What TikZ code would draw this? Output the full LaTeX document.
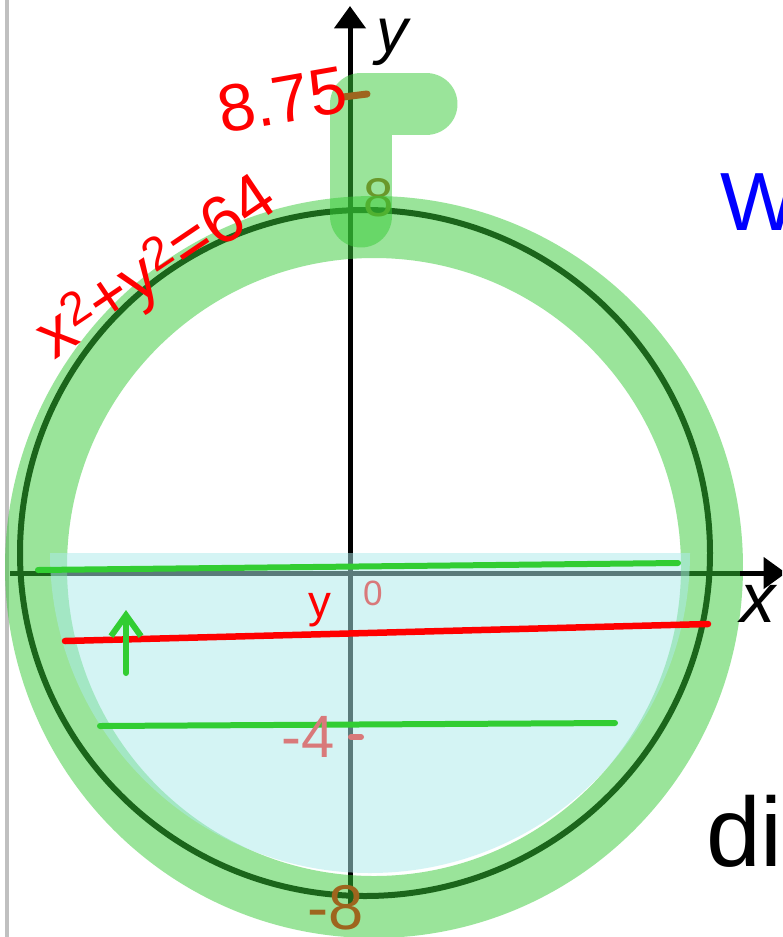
\documentclass[tikz,border=0pt]{standalone}
\usepackage{fontspec}
\setmainfont{Liberation Sans}
\usetikzlibrary{arrows.meta}
\definecolor{inkred}{RGB}{255,0,0}
\definecolor{inkgreen}{RGB}{50,205,50}
\definecolor{inkpink}{RGB}{217,121,122}
\definecolor{inkbrown}{RGB}{158,101,30}
\definecolor{inkblue}{RGB}{0,0,255}
\definecolor{pipegreen}{RGB}{55,203,55}
\definecolor{watercyan}{RGB}{173,235,235}
\definecolor{edgegray}{RGB}{192,192,192}
\begin{document}
\begin{tikzpicture}[x=0.02cm,y=-0.02cm,
  axis/.style={line width=0.1cm,black},
  pipe/.style={line width=1.24cm,draw=pipegreen,opacity=0.5,line cap=round,line join=round},
  water/.style={fill=watercyan,opacity=0.52},
  level/.style={line width=0.12cm,inkgreen,line cap=round},
  hand/.style={inner sep=0pt,outer sep=0pt}]
  \useasboundingbox (0,0) rectangle (782,937);
  \clip (0,0) rectangle (782,937);
  \fill[white] (0,0) rectangle (782,937);
  \draw[line width=0.08cm,edgegray] (7,0) -- (7,937);
  \coordinate (ytop) at (350,6);
  \coordinate (ybot) at (350,905);
  \coordinate (xleft) at (10,573);
  \coordinate (xright) at (786,573);
  \draw[axis] (ybot) -- (350,40);
  \draw[axis] (xleft) -- (755,573);
  \draw[line width=0.12cm] (365,553) ellipse[x radius=345, y radius=343];
  \node[hand,text=inkbrown,font=\fontsize{31}{31}\selectfont] (eight) at (379,198) {8};
  \draw[pipe] (374,567) ellipse[x radius=338, y radius=340];
  \draw[pipe,line width=1.26cm] (361,216) -- (361,104) -- (426,104);
  \fill[water] (690,553) arc[start angle=0, end angle=180, radius=320] -- cycle;
  \draw[axis,-{Triangle[length=0.45cm,width=0.62cm]}] (350,60) -- (ytop);
  \draw[axis,-{Triangle[length=0.45cm,width=0.62cm]}] (740,573) -- (xright);
  \coordinate (gtopa) at (38,570);
  \coordinate (gtopb) at (678,563);
  \coordinate (glowa) at (100,726);
  \coordinate (glowb) at (615,723);
  \coordinate (reda) at (65,641);
  \coordinate (redb) at (708,624);
  \draw[level] (gtopa) -- (gtopb);
  \draw[level] (glowa) -- (glowb);
  \draw[level,inkred,line width=0.13cm] (reda) -- (redb);
  \coordinate (arrlo) at (126,673);
  \coordinate (arrhi) at (126,610);
  \draw[level,-{Straight Barb[length=0.42cm,width=0.6cm]}] (arrlo) -- (arrhi);
  \draw[line width=0.14cm,inkbrown,line cap=round] (343,97) -- (367,94);
  \draw[line width=0.12cm,inkpink,line cap=round] (351,737) -- (361,737);
  \node[hand,text=inkred,font=\fontsize{38}{38}\selectfont,rotate=10] (depth) at (282,100) {8.75};
  \node[hand,text=inkred,font=\fontsize{38}{38}\selectfont,rotate=34] (circeq) at (158,270) {x\textsuperscript{2}+y\textsuperscript{2}=64};
  \node[hand,text=black,font=\itshape\fontsize{36}{36}\selectfont] (ylab) at (392,42) {y};
  \node[hand,text=black,font=\itshape\fontsize{40}{40}\selectfont,anchor=west] (xlab) at (740,604) {x};
  \node[hand,text=inkblue,font=\fontsize{47}{47}\selectfont,anchor=west] (wlab) at (720,202) {W};
  \node[hand,text=black,font=\fontsize{56}{56}\selectfont,anchor=base west] (dilab) at (706,866) {di};
  \node[hand,text=inkred,font=\fontsize{26}{26}\selectfont] (ylevel) at (320,610) {y};
  \node[hand,text=inkpink,font=\fontsize{20}{20}\selectfont] (zero) at (373,593) {0};
  \node[hand,text=inkpink,font=\fontsize{34}{34}\selectfont] (minusfour) at (308,737) {-4};
  \node[hand,text=inkbrown,font=\fontsize{36}{36}\selectfont] (minuseight) at (336,908) {-8};
\end{tikzpicture}
\end{document}
